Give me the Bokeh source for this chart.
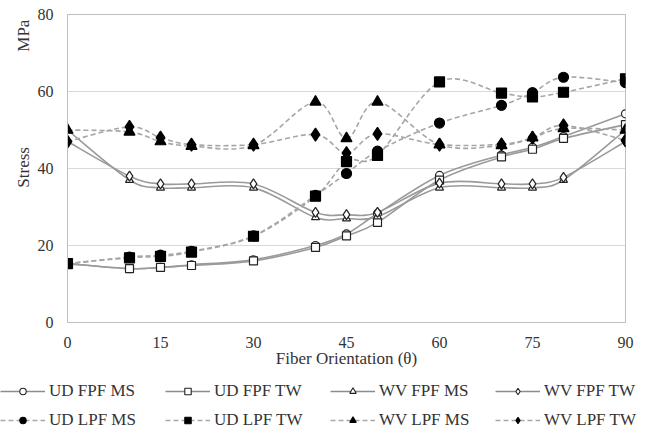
from bokeh.plotting import figure
from bokeh.layouts import column
from bokeh.models import Legend, LegendItem, FixedTicker, Range1d, LinearAxis
from bokeh.embed import file_html
from bokeh.resources import INLINE

angles = [0, 10, 15, 20, 30, 40, 45, 50, 60, 70, 75, 80, 90]
ud_fpf_ms = [15.3, 14.0, 14.3, 15.0, 16.3, 20.0, 23.0, 28.3, 38.2, 43.5, 45.5, 48.3, 54.2]
ud_fpf_tw = [15.3, 14.0, 14.3, 14.8, 16.0, 19.5, 22.5, 26.0, 37.0, 43.0, 45.0, 47.8, 51.4]
wv_fpf_ms = [50.0, 37.0, 35.0, 35.0, 35.0, 27.3, 27.0, 27.5, 35.0, 35.0, 35.0, 37.0, 50.0]
wv_fpf_tw = [47.0, 38.0, 36.0, 36.0, 36.0, 28.6, 28.0, 28.6, 36.2, 36.0, 36.0, 37.7, 47.0]
ud_lpf_ms = [15.3, 17.0, 17.5, 18.5, 22.5, 33.0, 38.7, 44.5, 51.8, 56.4, 59.7, 63.7, 62.3]
ud_lpf_tw = [15.3, 16.8, 17.2, 18.3, 22.4, 32.8, 41.8, 43.4, 62.5, 59.6, 58.6, 59.8, 63.3]
wv_lpf_ms = [50.0, 49.5, 47.0, 45.8, 46.0, 57.3, 47.8, 57.3, 46.2, 46.0, 48.0, 50.4, 50.0]
wv_lpf_tw = [47.0, 50.8, 48.0, 46.2, 46.2, 48.8, 44.0, 49.0, 46.2, 46.3, 48.0, 51.2, 47.3]

series_names = ["UD FPF MS", "UD FPF TW", "WV FPF MS", "WV FPF TW",
                "UD LPF MS", "UD LPF TW", "WV LPF MS", "WV LPF TW"]
series_values = [ud_fpf_ms, ud_fpf_tw, wv_fpf_ms, wv_fpf_tw,
                 ud_lpf_ms, ud_lpf_tw, wv_lpf_ms, wv_lpf_tw]
x_ticks = [0, 15, 30, 45, 60, 75, 90]
y_ticks = [0, 20, 40, 60, 80]
y_title_parts = {40.3: "Stress", 74.5: "MPa"}

TEXT = "#333333"
FONT = "Liberation Serif"

p = figure(width=650, height=380, x_range=Range1d(0, 90), y_range=Range1d(0, 80),
           output_backend="svg", toolbar_location=None,
           min_border_left=67, min_border_right=25, min_border_top=14, min_border_bottom=58)
p.frame_align = False

p.xaxis.ticker = FixedTicker(ticks=x_ticks)
p.yaxis.ticker = FixedTicker(ticks=y_ticks)
p.xgrid.visible = False
p.ygrid.grid_line_color = "#d9d9d9"
p.outline_line_color = "#bfbfbf"
for ax in (p.xaxis, p.yaxis):
    ax.axis_line_color = "#bfbfbf"
    ax.major_tick_line_color = None
    ax.minor_tick_line_color = None
    ax.major_tick_out = 0
    ax.minor_tick_out = 0
    ax.major_label_text_font = FONT
    ax.major_label_text_font_size = "16px"
    ax.major_label_text_color = TEXT
p.yaxis.major_label_standoff = 14
p.xaxis.major_label_standoff = 14
p.xaxis.axis_label = "Fiber Orientation (\u03b8)"
p.xaxis.axis_label_text_font = FONT
p.xaxis.axis_label_text_font_size = "17px"
p.xaxis.axis_label_text_font_style = "normal"
p.xaxis.axis_label_text_color = TEXT
p.xaxis.axis_label_standoff = -2

# y-axis title pieces ("Stress" and "MPa") drawn as a label-only axis
ytitle_axis = LinearAxis(ticker=FixedTicker(ticks=list(y_title_parts.keys())),
                         major_label_overrides=y_title_parts,
                         major_label_orientation="vertical",
                         axis_line_color=None, major_tick_line_color=None,
                         minor_tick_line_color=None, major_tick_out=0, minor_tick_out=0,
                         major_label_standoff=1,
                         major_label_text_font=FONT, major_label_text_font_size="17px",
                         major_label_text_color=TEXT)
p.add_layout(ytitle_axis, "left")


def smooth_controls(xs, ys):
    n = len(xs)
    x0, y0, x1, y1, cx0, cy0, cx1, cy1 = [], [], [], [], [], [], [], []
    for i in range(n - 1):
        im = max(i - 1, 0)
        ip2 = min(i + 2, n - 1)
        x0.append(xs[i]); y0.append(ys[i])
        x1.append(xs[i + 1]); y1.append(ys[i + 1])
        cx0.append(xs[i] + (xs[i + 1] - xs[im]) / 6.0)
        cy0.append(ys[i] + (ys[i + 1] - ys[im]) / 6.0)
        cx1.append(xs[i + 1] - (xs[ip2] - xs[i]) / 6.0)
        cy1.append(ys[i + 1] - (ys[ip2] - ys[i]) / 6.0)
    return dict(x0=x0, y0=y0, x1=x1, y1=y1, cx0=cx0, cy0=cy0, cx1=cx1, cy1=cy1)


styles = [
    dict(marker="circle", size=8, fill="white", dash="solid"),
    dict(marker="square", size=8, fill="white", dash="solid"),
    dict(marker="triangle", size=8, fill="white", dash="solid"),
    dict(marker="diamond", size=10, fill="white", dash="solid"),
    dict(marker="circle", size=10, fill="black", dash="5 3"),
    dict(marker="square", size=10, fill="black", dash="5 3"),
    dict(marker="triangle", size=11, fill="black", dash="5 3"),
    dict(marker="diamond", size=13, fill="black", dash="5 3"),
]

line_colors = {"solid": "#9a9a9a", "5 3": "#a6a6a6"}


def mcolor(st):
    return "#222222" if st["fill"] == "white" else "black"


for vals, st in zip(series_values, styles):
    c = smooth_controls(angles, vals)
    p.bezier(x0=c["x0"], y0=c["y0"], x1=c["x1"], y1=c["y1"],
             cx0=c["cx0"], cy0=c["cy0"], cx1=c["cx1"], cy1=c["cy1"],
             line_color=line_colors[st["dash"]], line_width=1.6, line_dash=st["dash"])

for vals, st in zip(series_values, styles):
    p.scatter(x=angles, y=vals, marker=st["marker"], size=st["size"],
              fill_color=st["fill"], line_color=mcolor(st), line_width=1.2)

# legend strip below the chart (its renderers hold one point outside the visible range)
lg = figure(width=650, height=52, x_range=Range1d(0, 1), y_range=Range1d(0, 1),
            output_backend="svg", toolbar_location=None, min_border=0,
            x_axis_location=None, y_axis_location=None)
lg.frame_align = False
lg.grid.visible = False
lg.outline_line_color = None

items = []
for name, st in zip(series_names, styles):
    ll = lg.line(x=[5, 6], y=[5, 6], line_color="#8c8c8c" if st["dash"] == "solid" else "#a6a6a6",
                 line_width=1.4, line_dash=st["dash"])
    sc = lg.scatter(x=[5], y=[5], marker=st["marker"], size=7,
                    fill_color=st["fill"], line_color=mcolor(st), line_width=1.1)
    items.append(LegendItem(label=name, renderers=[ll, sc]))

legend = Legend(items=items, location=(0, -2), orientation="horizontal", nrows=2,
                glyph_width=45, glyph_height=16, label_height=29, label_width=116,
                label_standoff=4, spacing=0, padding=0, margin=0,
                border_line_color=None, background_fill_alpha=0,
                label_text_font=FONT, label_text_font_size="17px", label_text_color=TEXT)
lg.add_layout(legend, "center")

layout = column(p, lg, spacing=0)
open("out.html", "w").write(file_html(layout, INLINE))
